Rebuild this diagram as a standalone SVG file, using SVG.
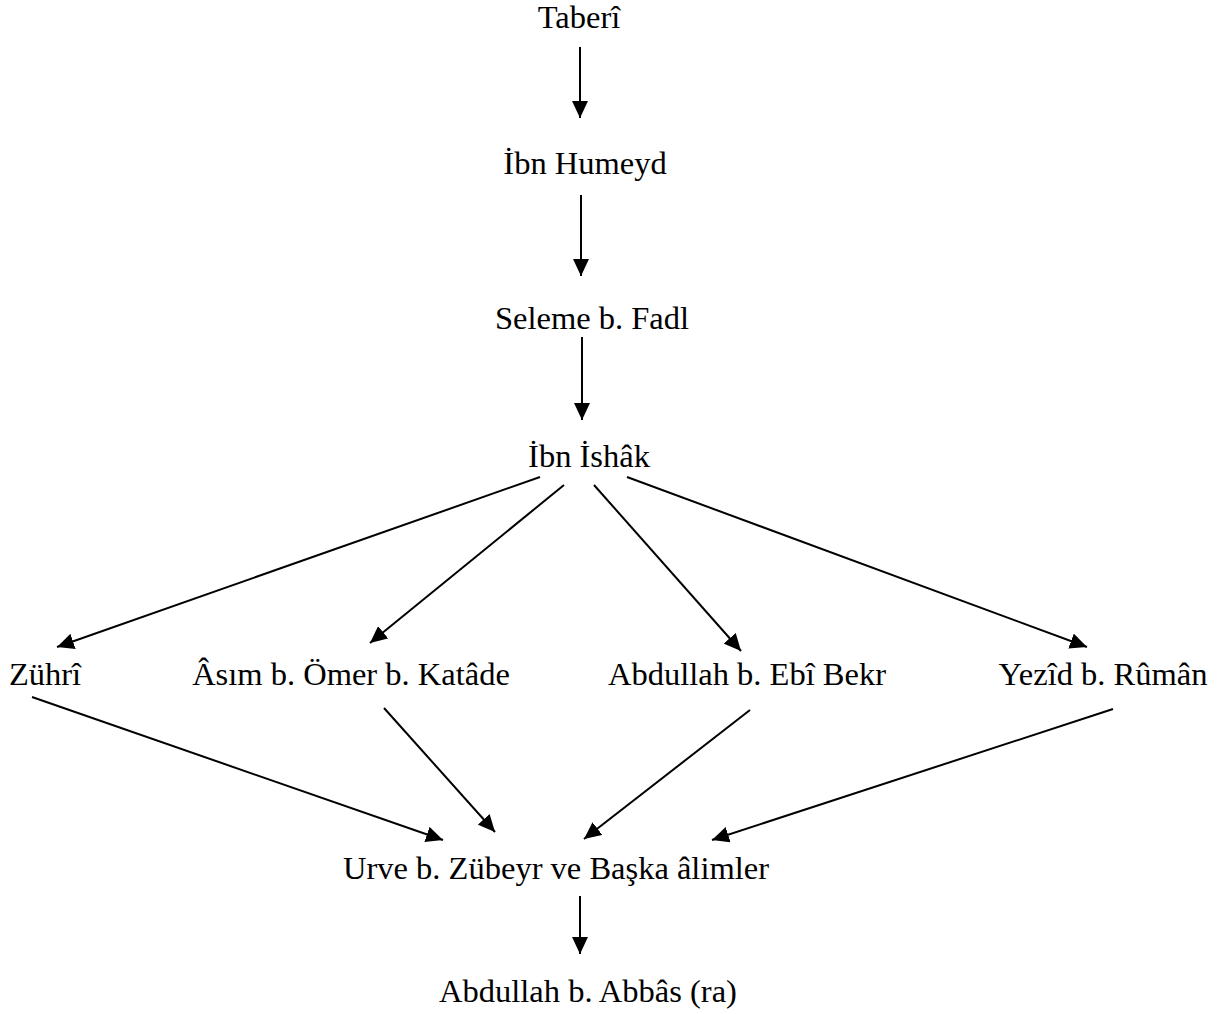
<svg xmlns="http://www.w3.org/2000/svg" width="1218" height="1014" viewBox="0 0 1218 1014">
<style>
text{font-family:"Liberation Serif","Times New Roman",serif;font-size:32.5px;fill:#000;text-anchor:middle}
.c line{stroke:#000;stroke-width:2;marker-end:url(#ah)}
</style>
<defs>
<marker id="ah" markerUnits="userSpaceOnUse" markerWidth="18" markerHeight="16" viewBox="0 0 18 16" refX="17" refY="8" orient="auto">
<path d="M0,0 L17,8 L0,16 Z" fill="#000"/>
</marker>
</defs>
<rect width="1218" height="1014" fill="#fff"/>
<g id="n-taberi"><text x="579" y="28">Taberî</text></g>
<g id="n-ibnhumeyd"><text x="585" y="174">İbn Humeyd</text></g>
<g id="n-seleme"><text x="592" y="329">Seleme b. Fadl</text></g>
<g id="n-ibnishak"><text x="589" y="467">İbn İshâk</text></g>
<g id="n-zuhri"><text x="45" y="685">Zührî</text></g>
<g id="n-asim"><text x="351" y="685">Âsım b. Ömer b. Katâde</text></g>
<g id="n-abdullahebi"><text x="747" y="685">Abdullah b. Ebî Bekr</text></g>
<g id="n-yezid"><text x="1103" y="685">Yezîd b. Rûmân</text></g>
<g id="n-urve"><text x="556" y="879">Urve b. Zübeyr ve Başka âlimler</text></g>
<g id="n-abbas"><text x="588" y="1002">Abdullah b. Abbâs (ra)</text></g>
<g class="c" id="connectors">
<line x1="580" y1="47" x2="580" y2="118"/>
<line x1="581" y1="195" x2="581" y2="276"/>
<line x1="582" y1="337" x2="582" y2="420"/>
<line x1="540" y1="477" x2="57" y2="647"/>
<line x1="564" y1="485" x2="370" y2="643"/>
<line x1="594" y1="485" x2="741" y2="651"/>
<line x1="627" y1="477" x2="1087" y2="647"/>
<line x1="32" y1="697" x2="443" y2="840"/>
<line x1="384" y1="708" x2="495" y2="832"/>
<line x1="750" y1="710" x2="584" y2="839"/>
<line x1="1113" y1="709" x2="712" y2="840"/>
<line x1="580" y1="896" x2="580" y2="954"/>
</g>
</svg>
